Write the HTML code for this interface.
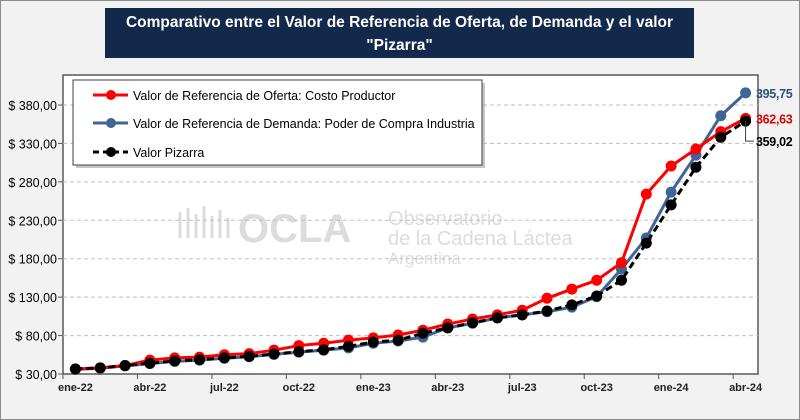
<!DOCTYPE html>
<html><head><meta charset="utf-8"><style>
body{margin:0;width:800px;height:420px;overflow:hidden;background:#f2f2f2;font-family:"Liberation Sans",sans-serif}
#frame{position:absolute;left:0;top:0;width:798px;height:418px;border:1px solid #8c8c8c;background:#f2f2f2}
#title{position:absolute;left:105px;top:8px;width:589px;height:50px;background:#13294b;color:#fff;font-weight:bold;font-size:15.5px;text-align:center;line-height:23px;padding-top:3px;box-sizing:border-box;white-space:nowrap}
svg{position:absolute;left:0;top:0}
</style></head><body>
<div id="frame"></div>
<div id="title">Comparativo entre el Valor de Referencia de Oferta, de Demanda y el valor<br>"Pizarra"</div>
<svg id="chart" width="800" height="420"></svg>
<script>
const months=["ene-22","feb-22","mar-22","abr-22","may-22","jun-22","jul-22","ago-22","sep-22","oct-22","nov-22","dic-22","ene-23","feb-23","mar-23","abr-23","may-23","jun-23","jul-23","ago-23","sep-23","oct-23","nov-23","dic-23","ene-24","feb-24","mar-24","abr-24"];
const oferta=[36.5,38,41,48,51,52,55,56.5,61,67,70,74,77,80.7,87,95,101.5,107,113,128.5,140.5,152,174.8,264,300.6,322.7,345.3,362.63];
const demanda=[36,37.5,40.5,43.5,46.5,48,50.5,52.5,55.5,58.5,61,64,70,73,78,90,96,103,107,111,117,130.6,166.6,207,266.7,314.8,366,395.75];
const pizarra=[36.5,38,41,44,47,48.6,51,53,56,59,61.6,66,71.6,74,83,90,96.7,103,107,112,120,131.5,152,200.3,250,299,338,359.02];
const yTicks=[30,80,130,180,230,280,330,380];
const yTickLabels=["$ 30,00","$ 80,00","$ 130,00","$ 180,00","$ 230,00","$ 280,00","$ 330,00","$ 380,00"];
const endLabels=["362,63","395,75","359,02"];
const NS="http://www.w3.org/2000/svg";
const svg=document.getElementById('chart');
const L=63,R=758,T=75,B=374,yMin=30,yMax=380,yTop=105;
function y(v){return B-(v-yMin)*(B-yTop)/(yMax-yMin);}
const bw=(R-L)/months.length;
function x(i){return L+bw*(i+0.5);}
function mk(tag,attrs,parent){const e=document.createElementNS(NS,tag);for(const k in attrs)e.setAttribute(k,attrs[k]);(parent||svg).appendChild(e);return e;}
let r=mk('rect',{x:L,y:T,width:R-L,height:B-T,fill:'#fff',stroke:'#595959','stroke-width':1.5});


let wm=mk('g',{fill:'#dcdcdc'});


let t1=mk('text',{x:238,y:242,'font-size':40,'font-weight':'bold'},wm);t1.textContent='OCLA';
let t2=mk('text',{x:388,y:225,'font-size':20},wm);t2.textContent='Observatorio';
let t3=mk('text',{x:388,y:245,'font-size':20},wm);t3.textContent='de la Cadena Láctea';
let t4=mk('text',{x:388,y:264,'font-size':17},wm);t4.textContent='Argentina';
mk('path',{d:'M180 238 L180 212 M188 238 L188 208 M196 238 L196 214 M204 238 L204 206 M212 238 L212 216 M220 238 L220 210 M228 238 L228 218',stroke:'#dcdcdc','stroke-width':3},wm);
yTicks.forEach((v,i)=>{
  if(v>yMin){let g=mk('line',{x1:L,x2:R,y1:y(v),y2:y(v),stroke:'#bfbfbf','stroke-dasharray':'4,3'});
  
  }
  mk('line',{x1:L-5,x2:L,y1:y(v),y2:y(v),stroke:'#595959'});
  let t=mk('text',{x:L-6,y:y(v)+5,'text-anchor':'end','font-size':12.5,fill:'#000'});
  t.textContent=yTickLabels[i];
  
  
});
months.forEach((m,i)=>{
  if(i%3===0){
    mk('line',{x1:L+bw*i,x2:L+bw*i,y1:B,y2:B+5,stroke:'#595959'});
    let t=mk('text',{x:x(i),y:B+17,'text-anchor':'middle','font-size':11,'font-weight':'bold',fill:'#222'});
    t.textContent=m;
    
    
  }
});
function series(data,color,dash,name){
  let g=mk('g',{});
  
  
  mk('polyline',{points:data.map((v,i)=>x(i)+','+y(v)).join(' '),fill:'none',stroke:color,'stroke-width':3,'stroke-dasharray':dash||'none'},g);
  data.forEach((v,i)=>{let c=mk('circle',{cx:x(i),cy:y(v),r:5.5,fill:color},g);
    
    });
}
series(demanda,'#3f6597',null,'series-demanda');
series(oferta,'#ff0000',null,'series-oferta');
series(pizarra,'#000000','7,4','series-pizarra');
const n=months.length-1;
let e1=mk('text',{x:756,y:y(oferta[n])+5,'font-size':12.5,'font-weight':'bold',fill:'#e00000','letter-spacing':'-0.3'});e1.textContent=endLabels[0];

let e2=mk('text',{x:756,y:y(demanda[n])+5,'font-size':12.5,'font-weight':'bold',fill:'#2f4f7f','letter-spacing':'-0.3'});e2.textContent=endLabels[1];

mk('polyline',{points:`${x(n)},${y(pizarra[n])} ${x(n)},${y(pizarra[n])+20} 754,${y(pizarra[n])+20}`,fill:'none',stroke:'#404040'});
let e3=mk('text',{x:756,y:y(pizarra[n])+25,'font-size':12.5,'font-weight':'bold',fill:'#000','letter-spacing':'-0.3'});e3.textContent=endLabels[2];

let lg=mk('g',{});


mk('rect',{x:76,y:83,width:409,height:85,fill:'#a0a0a0',opacity:0.6},lg);
mk('rect',{x:73,y:80,width:409,height:85,fill:'#fff',stroke:'#404040','stroke-width':1},lg);
[["#ff0000",null,"Valor de Referencia de Oferta: Costo Productor",95],["#3f6597",null,"Valor de Referencia de Demanda: Poder de Compra Industria",123],["#000",'6,4',"Valor Pizarra",152]].forEach(s=>{
  let e=mk('g',{},lg);
  
  
  mk('line',{x1:93,x2:128,y1:s[3],y2:s[3],stroke:s[0],'stroke-width':3,'stroke-dasharray':s[1]||'none'},e);
  mk('circle',{cx:111,cy:s[3],r:5,fill:s[0]},e);
  let t=mk('text',{x:133,y:s[3]+5,'font-size':12.5,fill:'#000'},e);t.textContent=s[2];
});
</script>
</body></html>
